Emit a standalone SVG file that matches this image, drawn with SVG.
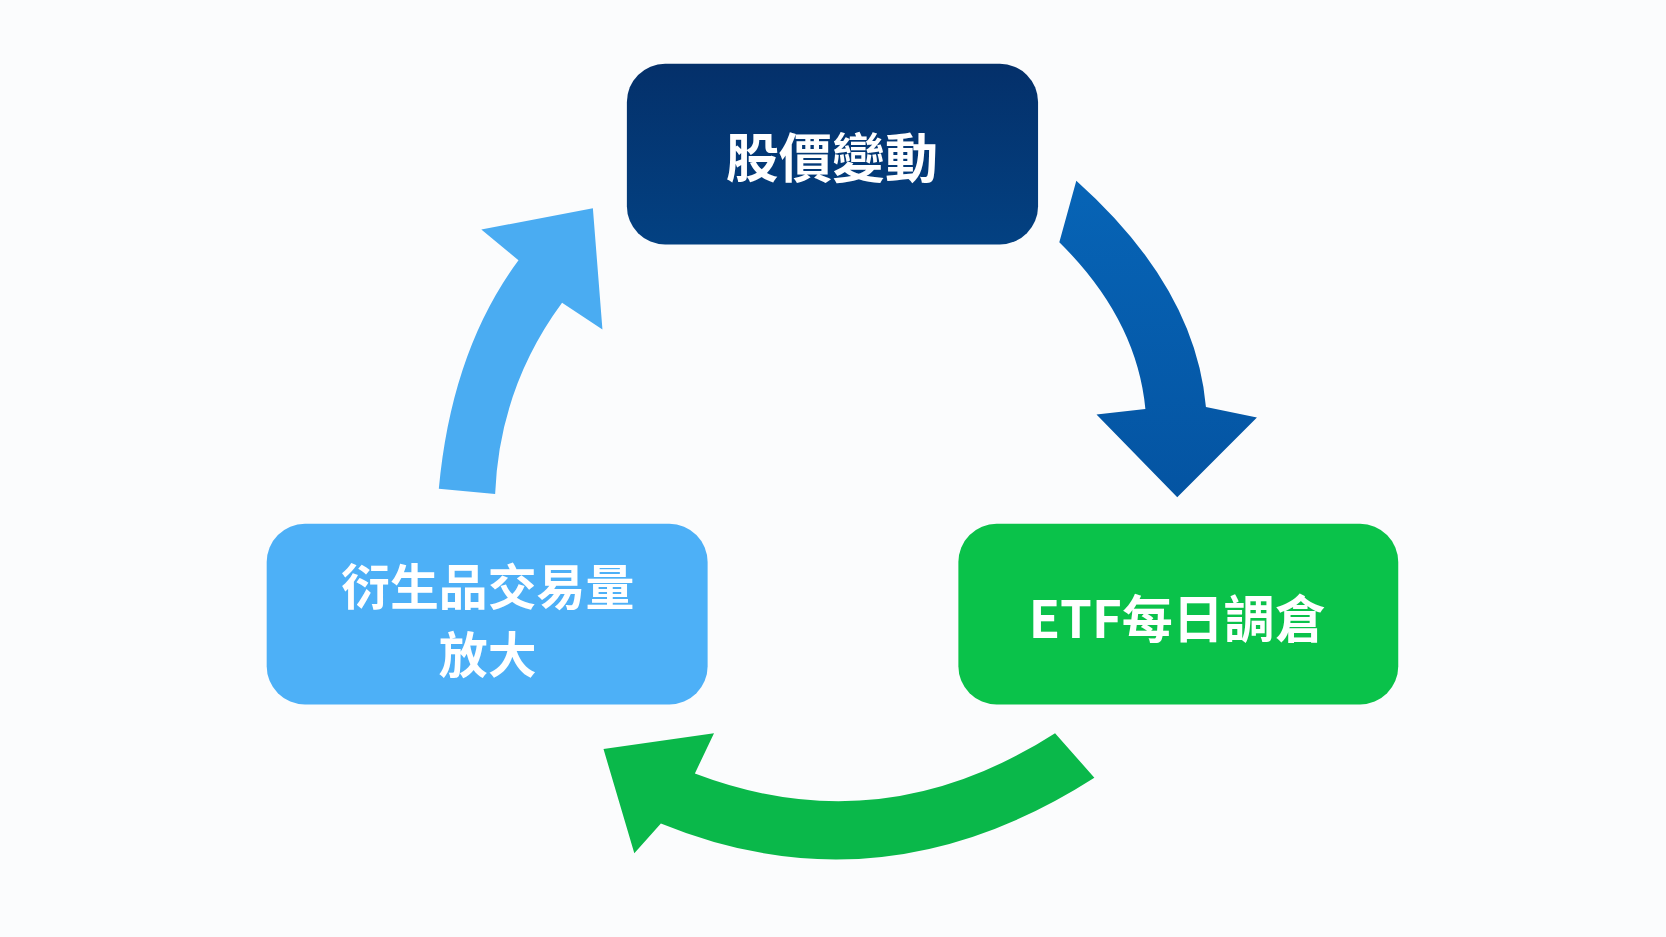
<svg xmlns="http://www.w3.org/2000/svg" width="1666" height="937" viewBox="0 0 1666 937">
<style>
.t{font-family:"Noto Sans CJK TC","Noto Sans CJK SC",sans-serif;font-weight:700;fill:#fff;text-anchor:middle;dominant-baseline:central}
</style>
<defs>
<linearGradient id="gb" x1="0" y1="0" x2="0" y2="1"><stop offset="0" stop-color="#04306a"/><stop offset="1" stop-color="#034182"/></linearGradient>
<linearGradient id="ga" x1="0" y1="0" x2="0" y2="1"><stop offset="0" stop-color="#0764b6"/><stop offset="1" stop-color="#0454a2"/></linearGradient>
</defs>
<rect width="1666" height="937" fill="#fbfcfd"/>
<g transform="scale(1.0625)">
<g id="connectors">
<path d="M997,228 L1013,170 Q1125,270 1135,383 L1183,393 L1108,468 L1032,390 L1078,385 Q1070,300 997,228 Z" fill="url(#ga)"/>
<path d="M993,690 L1030,732 Q830,860 622,775 L597,803 L568,705 L672,690 L654,728 Q830,795 993,690 Z" fill="#0ab84a"/>
<path d="M413,460 Q425,330 488,245 L453,216 L558,196 L567,310 L529,285 Q470,365 466,465 Z" fill="#4aacf2"/>
</g>
<g id="node-stock">
<rect x="590" y="60" width="387" height="170" rx="36" fill="url(#gb)"/>
<text class="t" x="783" y="145" font-size="50">股價變動</text>
</g>
<g id="node-etf">
<rect x="902" y="493" width="414" height="170" rx="36" fill="#0ac24a"/>
<text class="t" x="1108" y="580" font-size="48">ETF每日調倉</text>
</g>
<g id="node-deriv">
<rect x="251" y="493" width="415" height="170" rx="36" fill="#4db0f7"/>
<text class="t" x="459" y="549" font-size="46">衍生品交易量</text>
<text class="t" x="459" y="613" font-size="46">放大</text>
</g>
</g>
</svg>
